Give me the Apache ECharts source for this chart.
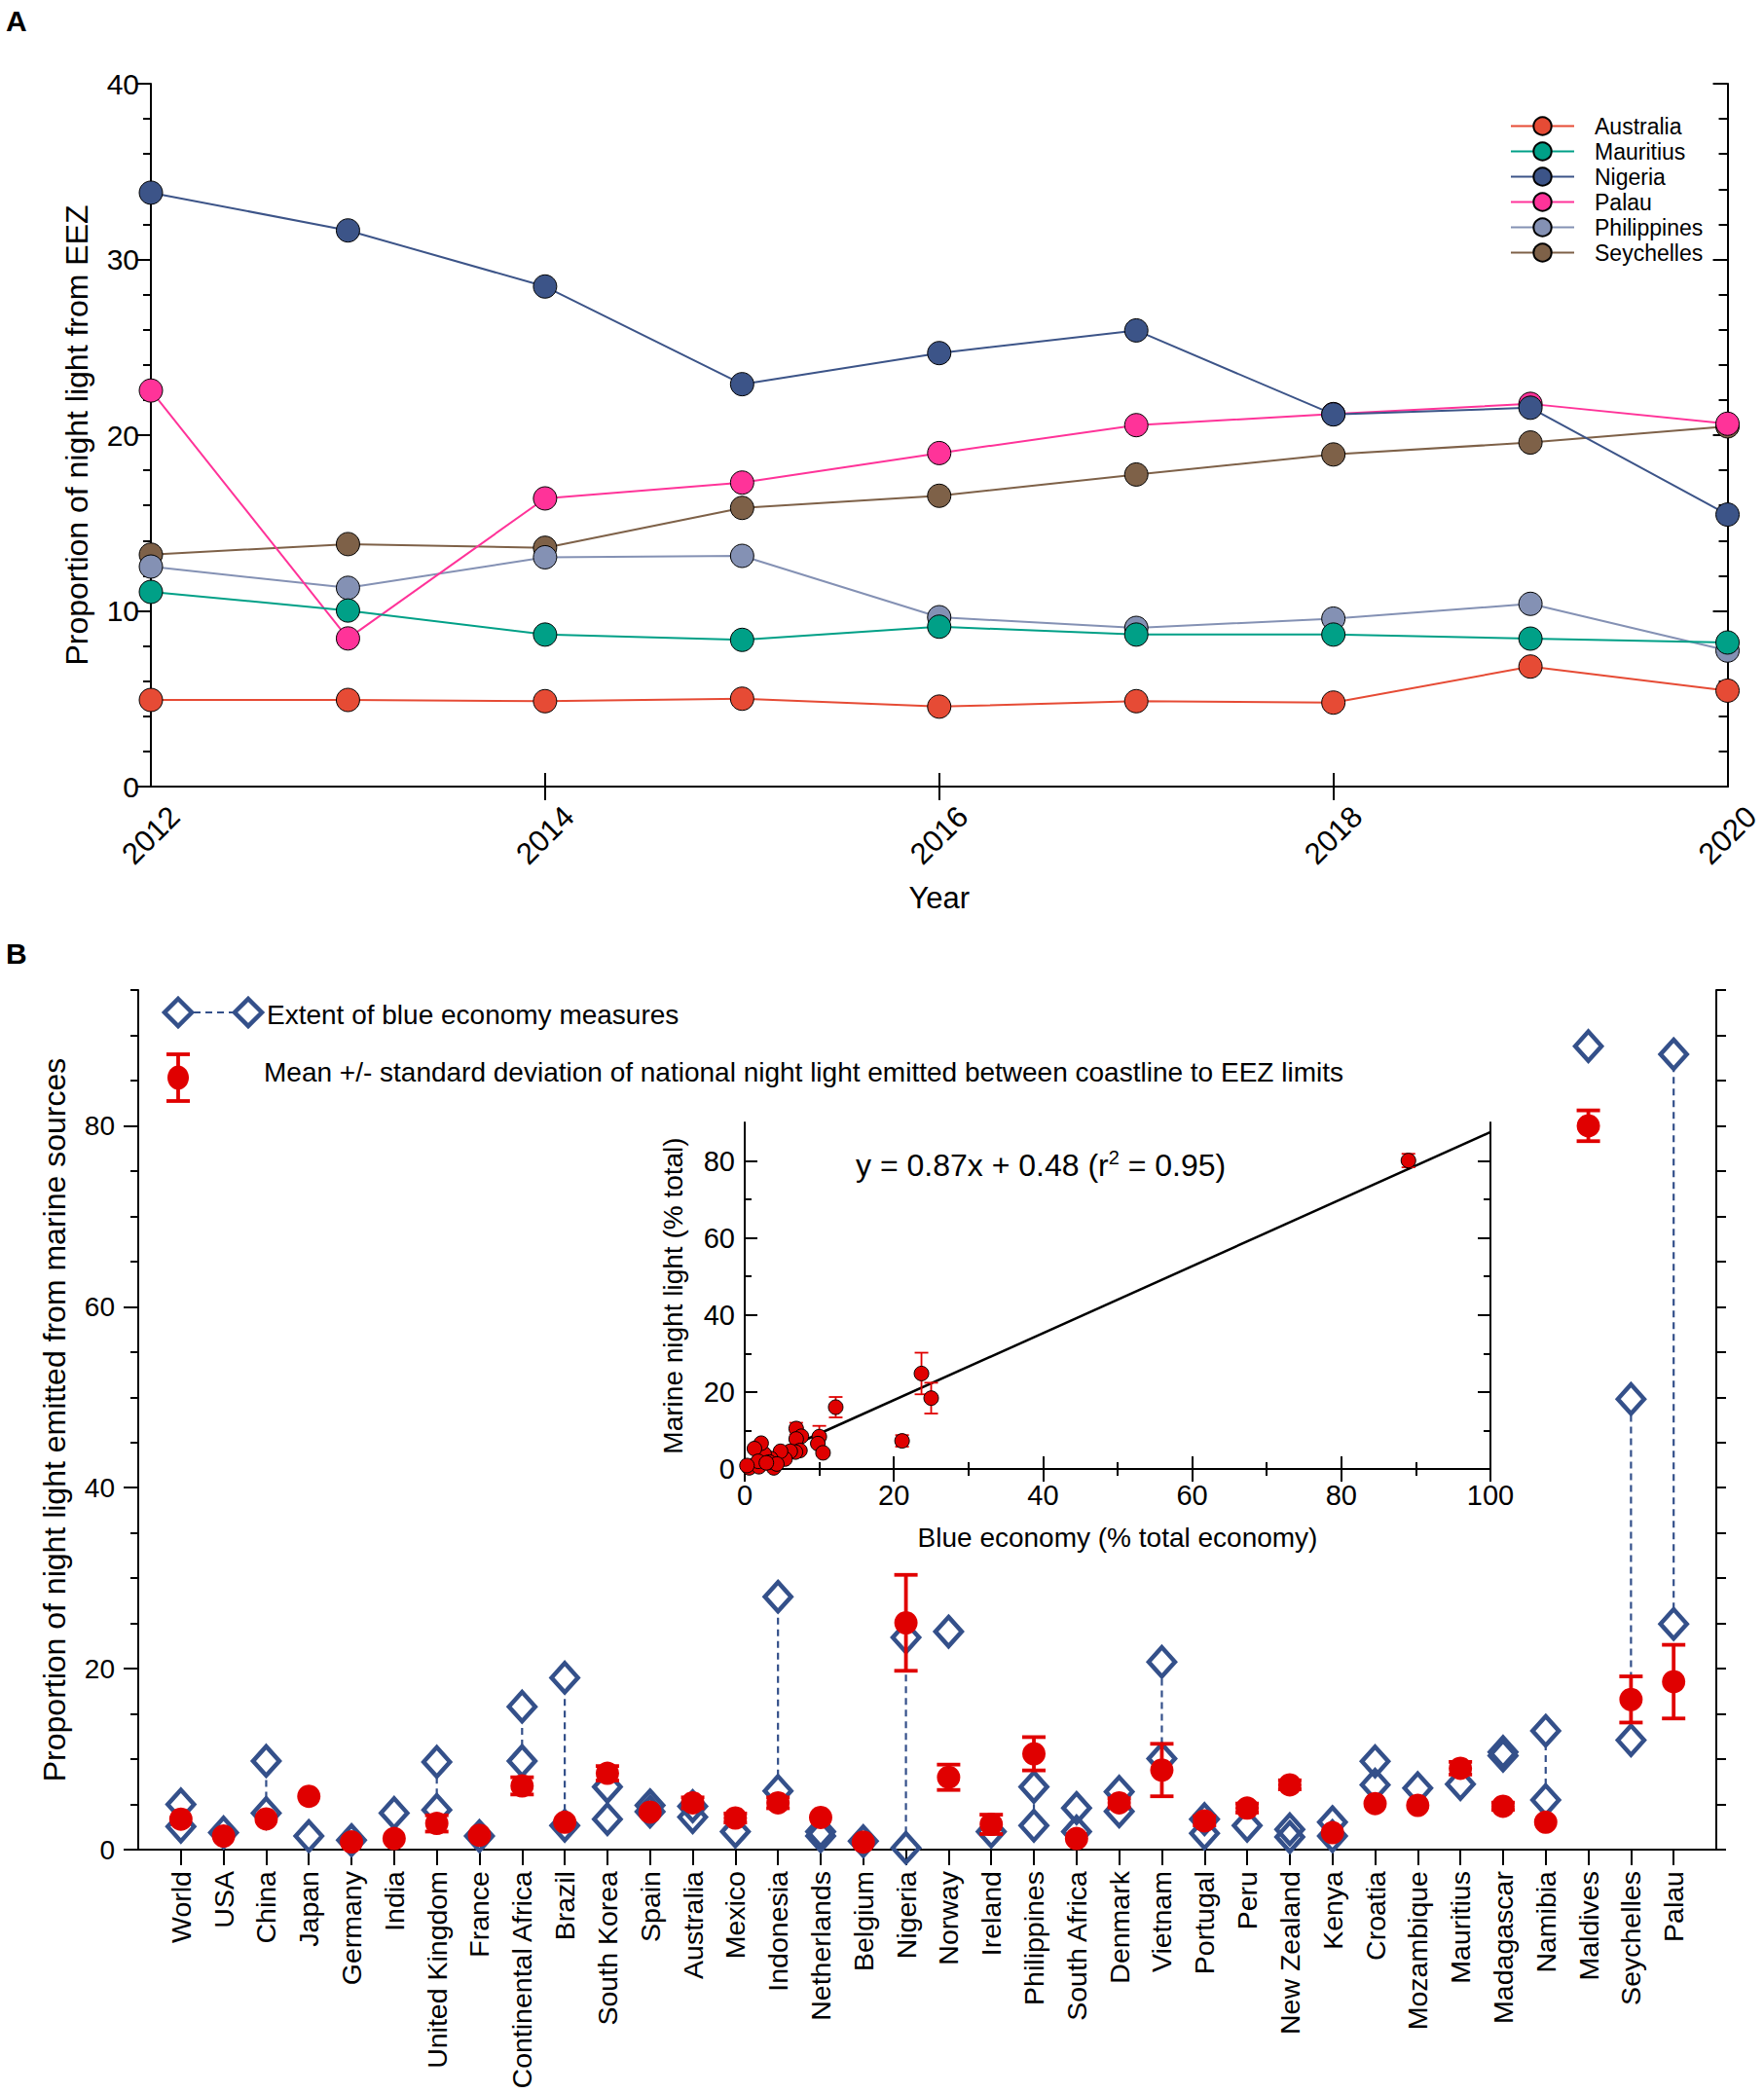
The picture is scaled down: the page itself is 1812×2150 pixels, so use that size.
<!DOCTYPE html>
<html>
<head>
<meta charset="utf-8">
<script src="https://cdn.jsdelivr.net/npm/echarts@6/dist/echarts.min.js"></script>
<style>
html,body{margin:0;padding:0;background:#fff;}
#c{width:1812px;height:2150px;}
</style>
</head>
<body>
<div id="c"></div>
<script>
// ---------- Panel A data ----------
const years = [2012, 2013, 2014, 2015, 2016, 2017, 2018, 2019, 2020];
const australia   = [4.93, 4.93, 4.86, 5.00, 4.55, 4.86, 4.78, 6.83, 5.46];
const mauritius   = [11.08, 10.02, 8.65, 8.35, 9.10, 8.65, 8.65, 8.42, 8.20];
const nigeria     = [33.8, 31.65, 28.46, 22.9, 24.67, 25.96, 21.18, 21.56, 15.48];
const palau       = [22.54, 8.43, 16.4, 17.3, 18.98, 20.57, 21.2, 21.78, 20.65];
const philippines = [12.52, 11.31, 13.05, 13.13, 9.64, 9.03, 9.56, 10.4, 7.74];
const seychelles  = [13.2, 13.8, 13.59, 15.86, 16.55, 17.76, 18.9, 19.58, 20.5];
const yTicksA = [0, 10, 20, 30, 40];
const xTicksA = [2012, 2014, 2016, 2018, 2020];

// ---------- Panel B data ----------
const countries = ['World','USA','China','Japan','Germany','India','United Kingdom','France','Continental Africa','Brazil','South Korea','Spain','Australia','Mexico','Indonesia','Netherlands','Belgium','Nigeria','Norway','Ireland','Philippines','South Africa','Denmark','Vietnam','Portugal','Peru','New Zealand','Kenya','Croatia','Mozambique','Mauritius','Madagascar','Namibia','Maldives','Seychelles','Palau'];
const blueLow  = [2.55, 1.9, 4.05, 1.5, 1.05, 4.05, 4.4, 1.5, 9.8, 2.66, 3.38, 4.2, 3.6, 2.0, 6.5, 1.5, 0.94, 0.2, 24.1, 2.0, 2.66, 2.0, 4.24, 10.06, 1.8, 2.66, 1.4, 1.5, 7.17, 6.8, 7.24, 10.4, 5.48, 88.8, 12.1, 24.95];
const blueHigh = [5.0, null, 9.8, null, null, null, 9.7, null, 15.8, 19.0, 6.94, 4.9, 4.8, null, 27.95, 2.0, null, 23.45, null, null, 6.94, 4.6, 6.4, 20.75, 3.38, null, 2.25, 3.04, 9.76, null, null, 10.8, 13.13, null, 49.8, 87.9];
const lightMean = [3.38, 1.5, 3.4, 5.9, 0.86, 1.24, 2.9, 1.6, 7.05, 3.04, 8.44, 4.16, 5.18, 3.5, 5.18, 3.56, 0.85, 25.07, 8.0, 2.8, 10.6, 1.24, 5.18, 8.8, 3.19, 4.6, 7.17, 1.88, 5.1, 4.9, 9.0, 4.8, 3.04, 80.0, 16.6, 18.57];
const lightSD   = [0, 0, 0, 0, 0, 0, 0.9, 0, 0.95, 0, 0.8, 0, 0.6, 0.5, 0.6, 0, 0, 5.3, 1.4, 1.07, 1.84, 0, 0.5, 2.9, 0.5, 0.5, 0.5, 0, 0, 0, 0.7, 0.4, 0, 1.7, 2.55, 4.07];
const yMajorB = [0, 20, 40, 60, 80];
const yMinorB = [5, 10, 15, 25, 30, 35, 45, 50, 55, 65, 70, 75, 85, 90, 95];
const yAllB = [0, 5, 10, 15, 20, 25, 30, 35, 40, 45, 50, 55, 60, 65, 70, 75, 80, 85, 90, 95];

// ---------- Inset data ----------
const blueEconomy = [89.0, 23.7, 25.0, 21.1, 12.2, 6.9, 10.0, 9.8, 10.5, 7.6, 6.9, 7.4, 6.8, 6.1, 5.4, 4.8, 3.5, 2.6, 2.2, 1.3, 3.9, 1.3, 0.6, 1.9, 3.3, 1.8, 4.3, 2.9, 0.3];
const marineLight = [80.1, 24.8, 18.4, 7.3, 16.05, 10.5, 8.4, 6.6, 4.2, 8.5, 7.8, 4.8, 4.4, 4.6, 2.6, 4.6, 2.7, 3.9, 6.7, 5.3, 0.3, 1.0, 0.3, 0.6, 1.8, 2.0, 1.3, 1.6, 0.9];
const marineSD    = [1.75, 5.4, 4.0, 1.5, 2.65, 1.5, 2.8, 0, 0, 0, 0, 0, 0, 0, 0, 0, 0, 0, 0, 0, 0, 0, 0, 0, 0, 0, 0, 0, 0];
const fitX = [7, 100];
const fitY = [6.57, 87.48];
const yMajorIn = [0, 20, 40, 60, 80];
const yMinorIn = [10, 30, 50, 70];

const FONT = 'Liberation Sans, Arial, sans-serif';
const NAVY = '#34508A';
const RED = '#E00000';

const chart = echarts.init(document.getElementById('c'), null, {renderer: 'svg'});

function lineSeries(name, vals, color, z) {
  return {
    name: name, type: 'line', xAxisIndex: 0, yAxisIndex: 0, z: z,
    data: years.map((y, i) => [y, vals[i]]),
    symbol: 'circle', symbolSize: 24, clip: false,
    lineStyle: {color: color, width: 2},
    itemStyle: {color: color, borderColor: '#000', borderWidth: 1, opacity: 1},
    emphasis: {disabled: true}
  };
}

function errBarSeries(xIdx, yIdx, data, width, cap, z) {
  return {
    type: 'custom', xAxisIndex: xIdx, yAxisIndex: yIdx, z: z, clip: false,
    data: data,
    renderItem: function (params, api) {
      const x = api.value(0), m = api.value(1), s = api.value(2);
      if (!s) return null;
      const t = api.coord([x, m + s]), b = api.coord([x, m - s]);
      const st = {stroke: RED, lineWidth: width, fill: null};
      return {type: 'group', children: [
        {type: 'line', shape: {x1: t[0], y1: t[1], x2: b[0], y2: b[1]}, style: st},
        {type: 'line', shape: {x1: t[0] - cap, y1: t[1], x2: t[0] + cap, y2: t[1]}, style: st},
        {type: 'line', shape: {x1: b[0] - cap, y1: b[1], x2: b[0] + cap, y2: b[1]}, style: st}
      ]};
    }
  };
}

const diamondData = [];
countries.forEach((c, i) => {
  diamondData.push([i + 1, blueLow[i]]);
  if (blueHigh[i] != null) diamondData.push([i + 1, blueHigh[i]]);
});
const rangeData = [];
countries.forEach((c, i) => {
  if (blueHigh[i] != null) rangeData.push([i + 1, blueLow[i], blueHigh[i]]);
});

const axisLineBlack = {show: true, lineStyle: {color: '#000', width: 2}};

const option = {
  backgroundColor: '#fff',
  animation: false,
  textStyle: {fontFamily: FONT, color: '#000'},
  grid: [
    {left: 155, top: 86, width: 1620, height: 722},
    {left: 142, top: 1017, width: 1621, height: 885},
    {left: 765, top: 1153, width: 766, height: 356, show: true, backgroundColor: '#fff', borderWidth: 0, z: 5}
  ],
  xAxis: [
    {gridIndex: 0, type: 'value', position: 'bottom', min: 2012, max: 2020, interval: 2,
     axisLine: axisLineBlack, splitLine: {show: false},
     axisTick: {show: true, inside: true, length: 14, lineStyle: {color: '#000', width: 2}, customValues: xTicksA},
     axisLabel: {show: true, customValues: xTicksA, rotate: 45, align: 'center', verticalAlign: 'middle', margin: 50,
                 fontSize: 31, color: '#000', fontFamily: FONT, formatter: v => String(v)},
     name: 'Year', nameLocation: 'middle', nameGap: 99, nameTextStyle: {fontSize: 31, color: '#000', fontFamily: FONT}},
    {gridIndex: 0, type: 'value', position: 'top', min: 2012, max: 2020, interval: 2,
     axisLine: axisLineBlack, splitLine: {show: false}, axisLabel: {show: false},
     axisTick: {show: true, inside: true, length: 14, lineStyle: {color: '#000', width: 2}, customValues: [2014, 2016, 2018]}},
    {gridIndex: 1, type: 'value', position: 'bottom', min: 0, max: 37, interval: 1,
     axisLine: axisLineBlack, splitLine: {show: false},
     axisTick: {show: true, inside: false, length: 16, lineStyle: {color: '#000', width: 2}, customValues: countries.map((c, i) => i + 1)},
     axisLabel: {show: true, customValues: countries.map((c, i) => i + 1), rotate: 90, margin: 22, fontSize: 28.5, color: '#000', fontFamily: FONT,
                 formatter: v => countries[Math.round(v) - 1] || ''}},
    {gridIndex: 2, type: 'value', position: 'bottom', min: 0, max: 100, interval: 20, z: 6,
     axisLine: axisLineBlack, splitLine: {show: false},
     axisTick: {show: true, inside: true, length: 13, lineStyle: {color: '#000', width: 2}},
     minorTick: {show: true, splitNumber: 2, length: 7, lineStyle: {color: '#000', width: 2}},
     axisLabel: {show: true, margin: 12, fontSize: 29, color: '#000', fontFamily: FONT},
     name: 'Blue economy (% total economy)', nameLocation: 'middle', nameGap: 56, nameTextStyle: {fontSize: 28, color: '#000', fontFamily: FONT}},
    {gridIndex: 2, type: 'value', position: 'top', min: 0, max: 100, interval: 20, z: 6,
     axisLine: axisLineBlack, splitLine: {show: false}, axisLabel: {show: false},
     axisTick: {show: true, inside: true, length: 13, lineStyle: {color: '#000', width: 2}},
     minorTick: {show: true, splitNumber: 2, length: 7, lineStyle: {color: '#000', width: 2}}}
  ],
  yAxis: [
    {gridIndex: 0, type: 'value', position: 'left', min: 0, max: 40, interval: 10,
     axisLine: axisLineBlack, splitLine: {show: false},
     axisTick: {show: true, inside: false, length: 15, lineStyle: {color: '#000', width: 2}},
     minorTick: {show: true, splitNumber: 5, length: 8, lineStyle: {color: '#000', width: 2}},
     axisLabel: {show: true, margin: 12, fontSize: 30, color: '#000', fontFamily: FONT},
     name: 'Proportion of night light from EEZ', nameLocation: 'middle', nameGap: 60, nameTextStyle: {fontSize: 32, color: '#000', fontFamily: FONT}},
    {gridIndex: 0, type: 'value', position: 'right', min: 0, max: 40, interval: 10,
     axisLine: axisLineBlack, splitLine: {show: false}, axisLabel: {show: false},
     axisTick: {show: true, inside: true, length: 15, lineStyle: {color: '#000', width: 2}},
     minorTick: {show: true, splitNumber: 5, length: 9, lineStyle: {color: '#000', width: 2}}},
    {gridIndex: 1, type: 'value', position: 'left', min: 0, max: 95,
     axisLine: axisLineBlack, splitLine: {show: false},
     axisTick: {show: true, inside: false, length: 15, lineStyle: {color: '#000', width: 2}, customValues: yMajorB},
     axisLabel: {show: true, customValues: yMajorB, margin: 24, fontSize: 28, color: '#000', fontFamily: FONT},
     name: 'Proportion of night light emitted from marine sources', nameLocation: 'middle', nameGap: 70, nameTextStyle: {fontSize: 32, color: '#000', fontFamily: FONT}},
    {gridIndex: 1, type: 'value', position: 'left', min: 0, max: 95,
     axisLine: {show: false}, splitLine: {show: false}, axisLabel: {show: false},
     axisTick: {show: true, inside: false, length: 8, lineStyle: {color: '#000', width: 2}, customValues: yMinorB}},
    {gridIndex: 1, type: 'value', position: 'right', min: 0, max: 95,
     axisLine: axisLineBlack, splitLine: {show: false}, axisLabel: {show: false},
     axisTick: {show: true, inside: false, length: 10, lineStyle: {color: '#000', width: 2}, customValues: yAllB}},
    {gridIndex: 2, type: 'value', position: 'left', min: 0, max: 90, z: 6,
     axisLine: axisLineBlack, splitLine: {show: false},
     axisTick: {show: true, inside: true, length: 13, lineStyle: {color: '#000', width: 2}, customValues: yMajorIn},
     axisLabel: {show: true, customValues: yMajorIn, margin: 10, fontSize: 29, color: '#000', fontFamily: FONT},
     name: 'Marine night light (% total)', nameLocation: 'middle', nameGap: 60, nameTextStyle: {fontSize: 28, color: '#000', fontFamily: FONT}},
    {gridIndex: 2, type: 'value', position: 'left', min: 0, max: 90, z: 6,
     axisLine: {show: false}, splitLine: {show: false}, axisLabel: {show: false},
     axisTick: {show: true, inside: true, length: 7, lineStyle: {color: '#000', width: 2}, customValues: yMinorIn}},
    {gridIndex: 2, type: 'value', position: 'right', min: 0, max: 90, z: 6,
     axisLine: axisLineBlack, splitLine: {show: false}, axisLabel: {show: false},
     axisTick: {show: true, inside: true, length: 13, lineStyle: {color: '#000', width: 2}, customValues: yMajorIn}},
    {gridIndex: 2, type: 'value', position: 'right', min: 0, max: 90, z: 6,
     axisLine: {show: false}, splitLine: {show: false}, axisLabel: {show: false},
     axisTick: {show: true, inside: true, length: 7, lineStyle: {color: '#000', width: 2}, customValues: yMinorIn}}
  ],
  legend: {
    data: ['Australia', 'Mauritius', 'Nigeria', 'Palau', 'Philippines', 'Seychelles'],
    orient: 'vertical', left: 1546, top: 113, itemWidth: 65, itemHeight: 23, itemGap: 3,
    textStyle: {fontSize: 23, color: '#000', fontFamily: FONT, padding: [0, 0, 0, 16]},
    selectedMode: false
  },
  series: [
    lineSeries('Seychelles', seychelles, '#7E6148', 2),
    lineSeries('Philippines', philippines, '#8491B4', 3),
    lineSeries('Palau', palau, '#FF3399', 4),
    lineSeries('Nigeria', nigeria, '#3C5488', 5),
    lineSeries('Mauritius', mauritius, '#00A087', 6),
    lineSeries('Australia', australia, '#E64B35', 7),
    {type: 'custom', xAxisIndex: 2, yAxisIndex: 2, z: 2, clip: false, data: rangeData,
     renderItem: function (params, api) {
       const lo = api.coord([api.value(0), api.value(1)]);
       const hi = api.coord([api.value(0), api.value(2)]);
       if (lo[1] - hi[1] <= 30) return null;
       return {type: 'line', shape: {x1: lo[0], y1: lo[1] - 15, x2: hi[0], y2: hi[1] + 15},
               style: {stroke: NAVY, lineWidth: 2.2, lineDash: [7, 5], fill: null}};
     }},
    {type: 'scatter', xAxisIndex: 2, yAxisIndex: 2, z: 3, clip: false, data: diamondData,
     symbol: 'diamond', symbolSize: [27, 30],
     itemStyle: {color: 'rgba(255,255,255,0)', borderColor: NAVY, borderWidth: 4.5, opacity: 1}, emphasis: {disabled: true}},
    errBarSeries(2, 2, countries.map((c, i) => [i + 1, lightMean[i], lightSD[i]]), 3.8, 12, 4),
    {type: 'scatter', xAxisIndex: 2, yAxisIndex: 2, z: 5, clip: false,
     data: countries.map((c, i) => [i + 1, lightMean[i]]),
     symbol: 'circle', symbolSize: 24, itemStyle: {color: RED, opacity: 1}, emphasis: {disabled: true}},
    {type: 'line', xAxisIndex: 3, yAxisIndex: 5, z: 7, data: fitX.map((x, i) => [x, fitY[i]]),
     symbol: 'none', lineStyle: {color: '#000', width: 2.5}, emphasis: {disabled: true}},
    errBarSeries(3, 5, blueEconomy.map((x, i) => [x, marineLight[i], marineSD[i]]), 1.8, 7, 8),
    {type: 'scatter', xAxisIndex: 3, yAxisIndex: 5, z: 9, clip: false,
     data: blueEconomy.map((x, i) => [x, marineLight[i]]),
     symbol: 'circle', symbolSize: 15, itemStyle: {color: RED, borderColor: '#000', borderWidth: 1, opacity: 1}, emphasis: {disabled: true}}
  ],
  graphic: [
    {type: 'text', left: 6, top: 6, style: {text: 'A', fontSize: 30, fontWeight: 'bold', fill: '#000', fontFamily: FONT}},
    {type: 'text', left: 6, top: 964, style: {text: 'B', fontSize: 30, fontWeight: 'bold', fill: '#000', fontFamily: FONT}},
    {type: 'polygon', shape: {points: [[183, 1026], [197, 1040], [183, 1054], [169, 1040]]}, style: {fill: null, stroke: NAVY, lineWidth: 4.5}},
    {type: 'line', shape: {x1: 199, y1: 1040, x2: 239, y2: 1040}, style: {stroke: NAVY, lineWidth: 2.2, lineDash: [7, 5]}},
    {type: 'polygon', shape: {points: [[255, 1026], [269, 1040], [255, 1054], [241, 1040]]}, style: {fill: null, stroke: NAVY, lineWidth: 4.5}},
    {type: 'text', x: 274, y: 1042, style: {text: 'Extent of blue economy measures', fontSize: 28, fill: '#000', fontFamily: FONT, verticalAlign: 'middle'}},
    {type: 'line', shape: {x1: 183, y1: 1083, x2: 183, y2: 1131}, style: {stroke: RED, lineWidth: 3.8}},
    {type: 'line', shape: {x1: 171, y1: 1083, x2: 195, y2: 1083}, style: {stroke: RED, lineWidth: 3.8}},
    {type: 'line', shape: {x1: 171, y1: 1131, x2: 195, y2: 1131}, style: {stroke: RED, lineWidth: 3.8}},
    {type: 'ellipse', shape: {cx: 183, cy: 1107, rx: 11, ry: 12.5}, style: {fill: RED}},
    {type: 'text', x: 271, y: 1101, style: {text: 'Mean +/- standard deviation of national night light emitted between coastline to EEZ limits', fontSize: 28, fill: '#000', fontFamily: FONT, verticalAlign: 'middle'}},
    {type: 'text', x: 879, y: 1197, z: 20, style: {
      text: '{a|y = 0.87x + 0.48 (r}{s|2}{a| = 0.95)}', verticalAlign: 'middle',
      rich: {a: {fontSize: 32, fontFamily: FONT, fill: '#000'}, s: {fontSize: 20, fontFamily: FONT, fill: '#000', padding: [0, 0, 16, 0]}}
    }}
  ]
};
chart.setOption(option);
</script>
</body>
</html>
